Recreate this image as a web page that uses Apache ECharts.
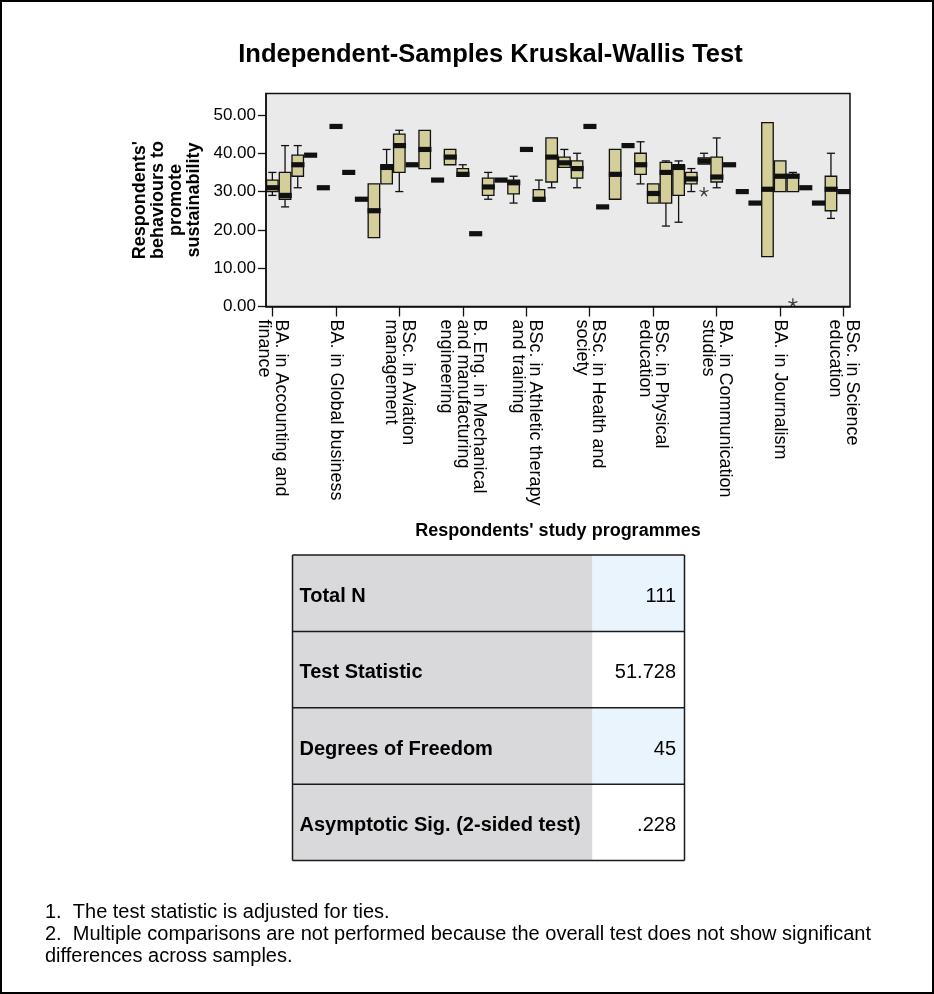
<!DOCTYPE html>
<html>
<head>
<meta charset="utf-8">
<script src="https://cdn.jsdelivr.net/npm/echarts@6/dist/echarts.min.js"></script>
<style>
  html, body { margin: 0; padding: 0; background: #ffffff; }
  #chart { width: 934px; height: 994px; }
</style>
</head>
<body>
<div id="chart"></div>
<script>
const FONT = '"Liberation Sans", Arial, Helvetica, sans-serif';

// Programme names shown under every fifth box
const tickLabels = [
  'BA. in Accounting and\nfinance',
  'BA. in Global business',
  'BSc. in Aviation\nmanagement',
  'B. Eng. in Mechanical\nand manufacturing\nengineering',
  'BSc. in Athletic therapy\nand training',
  'BSc. in Health and\nsociety',
  'BSc. in Physical\neducation',
  'BA. in Communication\nstudies',
  'BA. in Journalism',
  'BSc. in Science\neducation'
];
const GROUP_COUNT = 46;
const categories = Array.from({ length: GROUP_COUNT }, (_, i) => (i % 5 === 0 ? tickLabels[i / 5] : ''));

// Five-number summaries per programme (groups with one respondent repeat the value)
const lowWhisker = [
  29, 26, 31, 39.5, 31, 47, 35, 28, 18, 32,
  30, 37, 36, 33, 37, 34, 19, 28, 33, 27,
  41, 27.5, 31, 36.3, 31, 47, 26, 28, 42, 32,
  27, 21, 22, 30, 37.2, 31, 37, 30, 27, 13,
  30, 30, 31, 27, 23, 30
];
const lowerQuartile = [
  30, 28, 34, 39.5, 31, 47, 35, 28, 18, 32,
  35, 37, 36, 33, 37, 34, 19, 29, 33, 29.4,
  41, 27.5, 32.5, 36.3, 33.5, 47, 26, 28, 42, 34.5,
  27, 27, 29, 32, 37.2, 32.5, 37, 30, 27, 13,
  30, 30, 31, 27, 25, 30
];
const medianValues = [
  31, 29, 37, 39.5, 31, 47, 35, 28, 25, 36.3,
  42, 37, 41, 33, 39, 34.5, 19, 31.2, 33, 32.3,
  41, 28, 39, 37.5, 36, 47, 26, 34.5, 42, 37,
  29.5, 35, 36.3, 33.3, 38, 33.8, 37, 30, 27, 30.6,
  34, 34, 31, 27, 30.6, 30
];
const upperQuartile = [
  33, 35, 39.5, 39.5, 31, 47, 35, 28, 32, 37,
  45, 37, 46, 33, 41, 36, 19, 33.5, 33, 33,
  41, 30.5, 44, 39, 38, 47, 26, 41, 42, 40,
  32, 37.6, 37, 35, 38.8, 39, 37, 30, 27, 48,
  38, 34.5, 31, 27, 34, 30
];
const highWhisker = [
  35, 42, 42, 39.5, 31, 47, 35, 28, 32, 41,
  46, 37, 46, 33, 41, 37, 19, 35, 33, 34,
  41, 33, 44, 41, 40, 47, 26, 41, 42, 43,
  32, 38, 38, 36, 40, 44, 37, 30, 27, 48,
  38, 35, 31, 27, 40, 30
];
// Extreme values: [group index, value]
const extremeValues = [
  [34, 30],
  [41, 1]
];

const yTicks = [0, 10, 20, 30, 40, 50];

const tableLabels = ['Total N', 'Test Statistic', 'Degrees of Freedom', 'Asymptotic Sig. (2-sided test)'];
const tableValues = ['111', '51.728', '45', '.228'];
const footnotes = [
  '1.  The test statistic is adjusted for ties.',
  '2.  Multiple comparisons are not performed because the overall test does not show significant',
  'differences across samples.'
];

const boxData = categories.map((_, i) => [
  i, lowWhisker[i], lowerQuartile[i], medianValues[i], upperQuartile[i], highWhisker[i]
]);

const BOX_FILL = '#D3CE9A';
const INK = '#111111';

function renderBox(params, api) {
  const i = api.value(0);
  const lo = api.value(1), q1 = api.value(2), med = api.value(3), q3 = api.value(4), hi = api.value(5);
  const band = api.size([1, 0])[0];
  const cx = api.coord([i, med])[0];
  const yLo = api.coord([i, lo])[1];
  const yQ1 = api.coord([i, q1])[1];
  const yMed = api.coord([i, med])[1];
  const yQ3 = api.coord([i, q3])[1];
  const yHi = api.coord([i, hi])[1];
  const half = band / 2;
  const capHalf = band * 0.32;
  const line = { stroke: INK, lineWidth: 1.3 };
  const children = [];

  if (hi > q3) {
    children.push({ type: 'line', shape: { x1: cx, y1: yQ3, x2: cx, y2: yHi }, style: line });
    children.push({ type: 'line', shape: { x1: cx - capHalf, y1: yHi, x2: cx + capHalf, y2: yHi }, style: line });
  }
  if (lo < q1) {
    children.push({ type: 'line', shape: { x1: cx, y1: yQ1, x2: cx, y2: yLo }, style: line });
    children.push({ type: 'line', shape: { x1: cx - capHalf, y1: yLo, x2: cx + capHalf, y2: yLo }, style: line });
  }
  if (q3 > q1) {
    children.push({
      type: 'rect',
      shape: { x: cx - half + 0.6, y: yQ3, width: band - 1.2, height: yQ1 - yQ3 },
      style: { fill: BOX_FILL, stroke: INK, lineWidth: 1.3 }
    });
  }
  children.push({
    type: 'rect',
    shape: { x: cx - half, y: yMed - 2.6, width: band + 0.4, height: 5.2 },
    style: { fill: INK }
  });
  return { type: 'group', children };
}

// Summary table and notes below the plot
const tableX = 292.5, tableSplit = 592.5, tableRight = 684.5, tableTop = 555, rowH = 76.4;
const graphics = [
  {
    type: 'rect', shape: { x: 1, y: 1, width: 932, height: 992 },
    style: { fill: 'none', stroke: '#000', lineWidth: 2 }, silent: true
  },
  {
    type: 'text', x: 490.5, y: 55,
    style: {
      text: 'Independent-Samples Kruskal-Wallis Test',
      font: 'bold 25.5px ' + FONT, fill: '#000', textAlign: 'center', textVerticalAlign: 'middle'
    }
  }
];
tableLabels.forEach((label, r) => {
  const y = tableTop + r * rowH;
  graphics.push({
    type: 'rect', shape: { x: tableX, y, width: tableSplit - tableX, height: rowH },
    style: { fill: '#D9D9DB' }
  });
  graphics.push({
    type: 'rect', shape: { x: tableSplit, y, width: tableRight - tableSplit, height: rowH },
    style: { fill: r % 2 === 0 ? '#EAF4FD' : '#FFFFFF' }
  });
  graphics.push({
    type: 'text', x: tableX + 7, y: y + rowH / 2 + 3,
    style: { text: label, font: 'bold 20px ' + FONT, fill: '#000', textAlign: 'left', textVerticalAlign: 'middle' }
  });
  graphics.push({
    type: 'text', x: tableRight - 8.5, y: y + rowH / 2 + 3,
    style: { text: tableValues[r], font: '20px ' + FONT, fill: '#000', textAlign: 'right', textVerticalAlign: 'middle' }
  });
});
for (let r = 0; r <= tableLabels.length; r++) {
  const y = tableTop + r * rowH;
  graphics.push({
    type: 'line', shape: { x1: tableX, y1: y, x2: tableRight, y2: y },
    style: { stroke: '#1a1a1a', lineWidth: 1.5 }
  });
}
graphics.push({
  type: 'line', shape: { x1: tableX, y1: tableTop, x2: tableX, y2: tableTop + 4 * rowH },
  style: { stroke: '#1a1a1a', lineWidth: 1.5 }
});
graphics.push({
  type: 'line', shape: { x1: tableRight, y1: tableTop, x2: tableRight, y2: tableTop + 4 * rowH },
  style: { stroke: '#1a1a1a', lineWidth: 1.5 }
});
footnotes.forEach((t, k) => {
  graphics.push({
    type: 'text', x: 45, y: 912 + k * 22,
    style: { text: t, font: '20px ' + FONT, fill: '#000', textAlign: 'left', textVerticalAlign: 'middle' }
  });
});

const chart = echarts.init(document.getElementById('chart'), null, { renderer: 'canvas' });
chart.setOption({
  animation: false,
  backgroundColor: '#ffffff',
  textStyle: { fontFamily: FONT },
  grid: {
    left: 266, top: 93.5, width: 584, height: 213,
    show: true, backgroundColor: '#EAEAEA', borderColor: '#111', borderWidth: 1.5,
    containLabel: false
  },
  xAxis: {
    type: 'category',
    data: categories,
    boundaryGap: true,
    name: "Respondents' study programmes",
    nameLocation: 'middle',
    nameGap: 216,
    nameTextStyle: { fontFamily: FONT, fontWeight: 'bold', fontSize: 18, color: '#000' },
    axisLine: { show: true, lineStyle: { color: '#111', width: 1.5 } },
    axisTick: { show: true, interval: 4, alignWithLabel: true, length: 10, lineStyle: { color: '#111', width: 1.3 } },
    axisLabel: {
      show: true, interval: 4, rotate: -90, margin: 13,
      fontFamily: FONT, fontSize: 18, lineHeight: 16.5, color: '#000', hideOverlap: false
    },
    splitLine: { show: false }
  },
  yAxis: {
    type: 'value',
    min: 0,
    max: 55.6,
    interval: 10,
    name: "Respondents'\nbehaviours to\npromote\nsustainability",
    nameLocation: 'middle',
    nameGap: 57,
    nameTextStyle: { fontFamily: FONT, fontWeight: 'bold', fontSize: 18, lineHeight: 17.7, color: '#000', align: 'center' },
    axisLine: { show: true, lineStyle: { color: '#111', width: 1.5 } },
    axisTick: { show: true, length: 8, customValues: yTicks, lineStyle: { color: '#111', width: 1.3 } },
    axisLabel: {
      show: true, customValues: yTicks, margin: 10,
      fontFamily: FONT, fontSize: 17, color: '#000',
      formatter: v => v.toFixed(2)
    },
    splitLine: { show: false }
  },
  series: [
    {
      type: 'custom',
      name: 'boxes',
      renderItem: renderBox,
      data: boxData,
      encode: { x: 0, y: [1, 2, 3, 4, 5] },
      clip: false,
      z: 2
    },
    {
      type: 'scatter',
      name: 'extremes',
      data: extremeValues,
      symbol: 'path://M0,-10L0,0M0,0L9.5,-3.1M0,0L5.9,8.1M0,0L-5.9,8.1M0,0L-9.5,-3.1',
      symbolSize: 9,
      itemStyle: { color: 'rgba(0,0,0,0)', borderColor: INK, borderWidth: 1.3 },
      z: 3
    }
  ],
  graphic: graphics
});
</script>
</body>
</html>
